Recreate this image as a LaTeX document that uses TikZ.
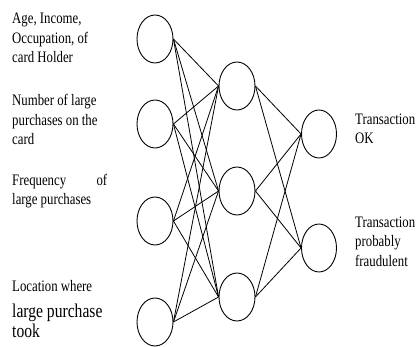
\documentclass[tikz,border=0pt]{standalone}
\usepackage{fontspec}
\newfontfamily\labfont[FakeStretch=0.8]{Liberation Serif}
\usetikzlibrary{shapes.geometric}

\begin{document}
\begin{tikzpicture}[x=1pt,y=-1pt,
  neuron/.style={ellipse,draw,line width=0.9pt,minimum width=36pt,minimum height=48pt,inner sep=0pt},
  link/.style={line width=0.8pt},
  lab/.style={anchor=base west,align=left,inner sep=0pt,font=\labfont\fontsize{16}{19.5}\selectfont}]
\useasboundingbox (0,0) rectangle (420,347);
% input layer
\node[neuron] (I1) at (155,39) {};
\node[neuron] (I2) at (155,124) {};
\node[neuron] (I3) at (155,221) {};
\node[neuron] (I4) at (155,322) {};
% hidden layer
\node[neuron] (H1) at (237,86) {};
\node[neuron] (H2) at (237,191) {};
\node[neuron] (H3) at (237,297) {};
% output layer
\node[neuron,minimum width=35pt] (O1) at (319,134) {};
\node[neuron,minimum width=35pt] (O2) at (319,248) {};
% labels (placed by the baseline of their last line)
\node[lab] (L1) at (12,63) {Age, Income,\\Occupation, of\\card Holder};
\node[lab] (L2) at (12,145) {Number of large\\purchases on the\\card};
\node[lab] (L3) at (12,205) {\makebox[95pt][l]{Frequency\hfill of}\\large purchases};
\node[lab] (L4) at (12,337) {Location where\\[7pt]\fontsize{19.5}{24}\selectfont large purchase\\\fontsize{19.5}{24}\selectfont took};
\node[lab] (R1) at (355,144) {Transaction\\OK};
\node[lab] (R2) at (355,266) {Transaction\\probably\\fraudulent};
% input to hidden
\draw[link] (I1.east) -- (H1.west);
\draw[link] (I1.east) -- (H2.west);
\draw[link] (I1.east) -- (H3.west);
\draw[link] (I2.east) -- (H1.west);
\draw[link] (I2.east) -- (H2.west);
\draw[link] (I2.east) -- (H3.west);
\draw[link] (I3.east) -- (H1.west);
\draw[link] (I3.east) -- (H2.west);
\draw[link] (I3.east) -- (H3.west);
\draw[link] (I4.east) -- (H1.west);
\draw[link] (I4.east) -- (H2.west);
\draw[link] (I4.east) -- (H3.west);
% hidden to output
\draw[link] (H1.east) -- (O1.west);
\draw[link] (H1.east) -- (O2.west);
\draw[link] (H2.east) -- (O1.west);
\draw[link] (H2.east) -- (O2.west);
\draw[link] (H3.east) -- (O1.west);
\draw[link] (H3.east) -- (O2.west);
\end{tikzpicture}
\end{document}
